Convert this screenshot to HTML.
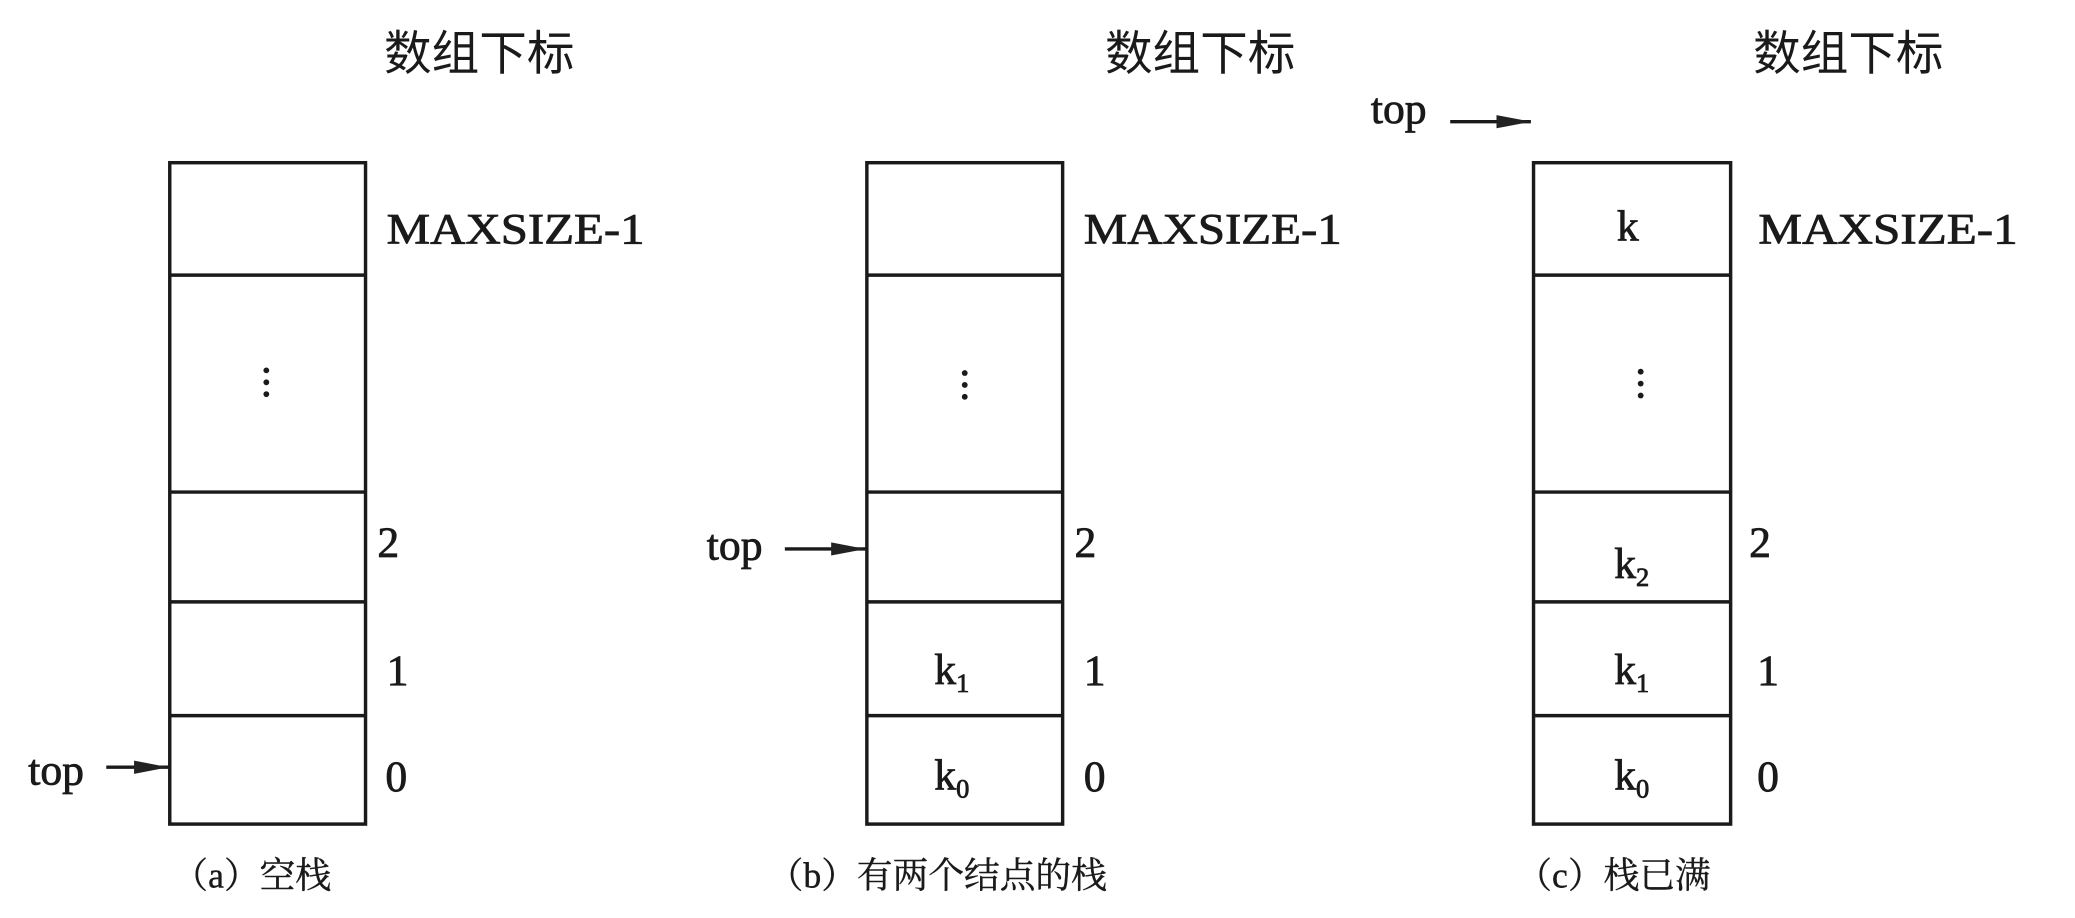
<!DOCTYPE html>
<html><head><meta charset="utf-8"><style>
html,body{margin:0;padding:0;background:#fff;}
svg{display:block;}
.t{font-family:"Liberation Serif",serif;font-size:33px;fill:#1a1a1a;stroke:#1a1a1a;stroke-width:0.6px;}
.h{font-family:"Liberation Sans","Noto Sans CJK SC",sans-serif;font-size:36px;fill:#1a1a1a;}
.c{font-family:"Liberation Serif","Noto Serif CJK SC",serif;font-size:27px;fill:#1a1a1a;stroke:#1a1a1a;stroke-width:0.3px;}
.s{font-size:20px;}
</style></head><body>
<svg width="2075" height="918" viewBox="0 0 1568 694" xmlns="http://www.w3.org/2000/svg">
<defs><marker id="ar" viewBox="0 0 26 12" refX="26" refY="6" markerWidth="26" markerHeight="12" markerUnits="userSpaceOnUse" orient="auto"><path d="M0,1 L26,6 L0,11 z" fill="#222"/></marker></defs>
<g stroke="#1a1a1a" stroke-width="2.6" fill="none">
<rect x="128" y="123" width="148" height="500"/>
<line x1="128" y1="208" x2="276" y2="208"/><line x1="128" y1="372" x2="276" y2="372"/><line x1="128" y1="455" x2="276" y2="455"/><line x1="128" y1="541" x2="276" y2="541"/>
<rect x="655" y="123" width="148" height="500"/>
<line x1="655" y1="208" x2="803" y2="208"/><line x1="655" y1="372" x2="803" y2="372"/><line x1="655" y1="455" x2="803" y2="455"/><line x1="655" y1="541" x2="803" y2="541"/>
<rect x="1159" y="123" width="149" height="500"/>
<line x1="1159" y1="208" x2="1308" y2="208"/><line x1="1159" y1="372" x2="1308" y2="372"/><line x1="1159" y1="455" x2="1308" y2="455"/><line x1="1159" y1="541" x2="1308" y2="541"/>
<line x1="80" y1="580" x2="127" y2="580" marker-end="url(#ar)"/>
<line x1="593" y1="415" x2="654" y2="415" marker-end="url(#ar)"/>
<line x1="1096" y1="92" x2="1157" y2="92" marker-end="url(#ar)"/>
</g>
<g fill="#1a1a1a">
<circle cx="201" cy="280" r="2.2"/><circle cx="201" cy="289" r="2.2"/><circle cx="201" cy="298" r="2.2"/>
<circle cx="729" cy="282" r="2.2"/><circle cx="729" cy="291" r="2.2"/><circle cx="729" cy="300" r="2.2"/>
<circle cx="1240" cy="281" r="2.2"/><circle cx="1240" cy="290" r="2.2"/><circle cx="1240" cy="299" r="2.2"/>
</g>
<text class="h" x="290" y="53">数组下标</text>
<text class="h" x="835" y="53">数组下标</text>
<text class="h" x="1325" y="53">数组下标</text>
<text class="t" x="292" y="184" textLength="195" lengthAdjust="spacingAndGlyphs">MAXSIZE-1</text>
<text class="t" x="819" y="184" textLength="195" lengthAdjust="spacingAndGlyphs">MAXSIZE-1</text>
<text class="t" x="1329" y="184" textLength="196" lengthAdjust="spacingAndGlyphs">MAXSIZE-1</text>
<text class="t" x="285" y="421">2</text><text class="t" x="292" y="518">1</text><text class="t" x="291" y="598">0</text>
<text class="t" x="812" y="421">2</text><text class="t" x="819" y="518">1</text><text class="t" x="819" y="598">0</text>
<text class="t" x="1322" y="421">2</text><text class="t" x="1328" y="518">1</text><text class="t" x="1328" y="598">0</text>
<text class="t" x="21" y="593">top</text>
<text class="t" x="534" y="423">top</text>
<text class="t" x="1036" y="93">top</text>
<text class="t" x="1222" y="182">k</text>
<text class="t" x="1220" y="437">k<tspan class="s" dy="6">2</tspan></text>
<text class="t" x="1220" y="517">k<tspan class="s" dy="6">1</tspan></text>
<text class="t" x="1220" y="597">k<tspan class="s" dy="6">0</tspan></text>
<text class="t" x="706" y="517">k<tspan class="s" dy="6">1</tspan></text>
<text class="t" x="706" y="597">k<tspan class="s" dy="6">0</tspan></text>
<text class="c" x="130" y="671">（a）空栈</text>
<text class="c" x="580" y="671">（b）有两个结点的栈</text>
<text class="c" x="1146" y="671">（c）栈已满</text>
</svg>
</body></html>
